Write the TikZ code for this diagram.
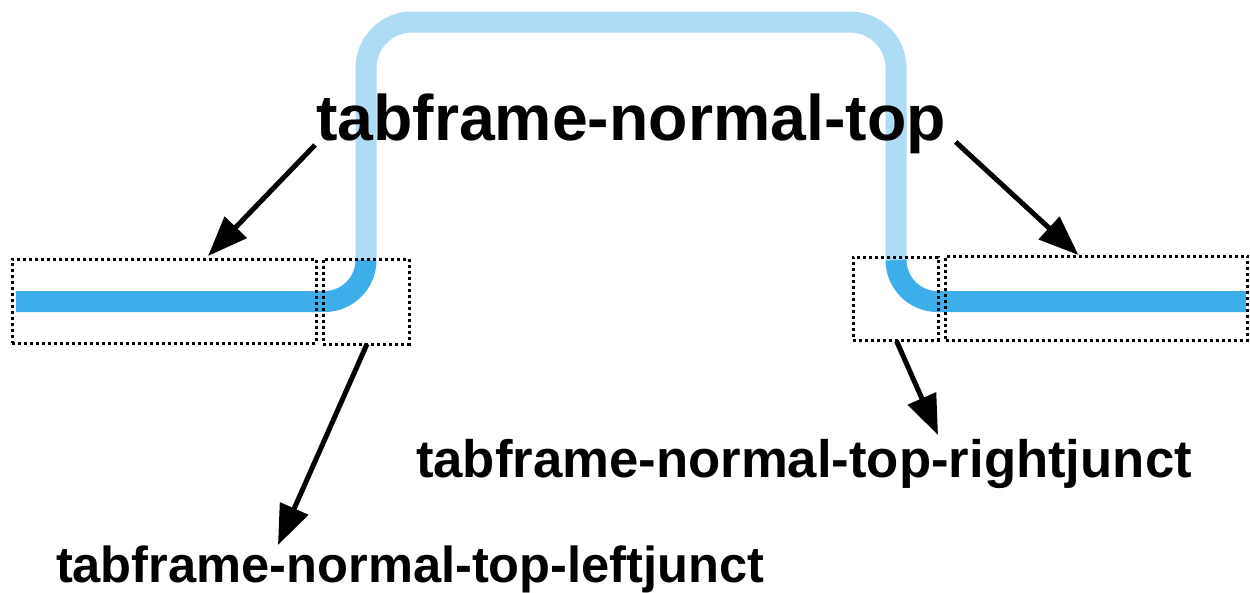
\documentclass[tikz,border=0pt]{standalone}
\usepackage{fontspec}
\setmainfont{Liberation Sans}
\usetikzlibrary{arrows.meta,calc}
\definecolor{tabblue}{RGB}{61,174,233}
\definecolor{tablight}{RGB}{174,220,245}
\tikzset{
  dotbox/.style={draw=black, line width=3pt, dash pattern=on 3pt off 3pt, inner sep=0pt, outer sep=0pt},
  lightline/.style={draw=tablight, line width=21pt},
  darkline/.style={draw=tabblue, line width=21pt},
  arr/.style={draw=black, line width=5pt, -{Triangle[length=40pt,width=30pt]}},
  bigtxt/.style={inner sep=0pt, outer sep=0pt, font=\fontsize{64.4}{70}\selectfont\bfseries},
  rtxt/.style={inner sep=0pt, outer sep=0pt, font=\fontsize{52.7}{58}\selectfont\bfseries},
  ltxt/.style={inner sep=0pt, outer sep=0pt, font=\fontsize{50.6}{56}\selectfont\bfseries}
}
\begin{document}
\begin{tikzpicture}[x=1pt,y=-1pt]
\useasboundingbox (0,0) rectangle (1250,592);
% blue frame
\draw[lightline, rounded corners=46pt] (366,260) -- (366,22) -- (896,22) -- (896,260);
\draw[darkline, rounded corners=41.5pt] (16,301.5) -| (366,260);
\draw[darkline, rounded corners=41.5pt] (896,260) |- (1246,301.5);
% dotted boxes
\node[dotbox, minimum width=304pt, minimum height=84pt] (lbox) at (164,301) {};
\node[dotbox, minimum width=86pt, minimum height=85pt] (ljunct) at (366,301.5) {};
\node[dotbox, minimum width=85pt, minimum height=83pt] (rjunct) at (895.5,298.5) {};
\node[dotbox, minimum width=302pt, minimum height=84pt] (rbox) at (1096.5,298) {};
% labels
\node[bigtxt, anchor=base west] (title) at (316,140) {tabframe-normal-top};
\node[rtxt, anchor=base west] (rlabel) at (416,477) {tabframe-normal-top-rightjunct};
\node[ltxt, anchor=base west] (llabel) at (56,582) {tabframe-normal-top-leftjunct};
% arrows
\coordinate (t1) at ($(lbox.north west)!0.645!(lbox.north east)+(0,-3)$);
\coordinate (t2) at ($(rbox.north west)!0.44!(rbox.north east)+(0,-1)$);
\coordinate (t3) at ($(llabel.base west)+(222,-37)$);
\coordinate (t4) at ($(rlabel.base west)+(522,-42)$);
\draw[arr] ($(title.base west)+(-1,5)$) -- (t1);
\draw[arr] ($(title.base east)+(10,2)$) -- (t2);
\draw[arr] ($(ljunct.south)+(1,0)$) -- (t3);
\draw[arr] ($(rjunct.south)+(1,1)$) -- (t4);
\end{tikzpicture}
\end{document}
